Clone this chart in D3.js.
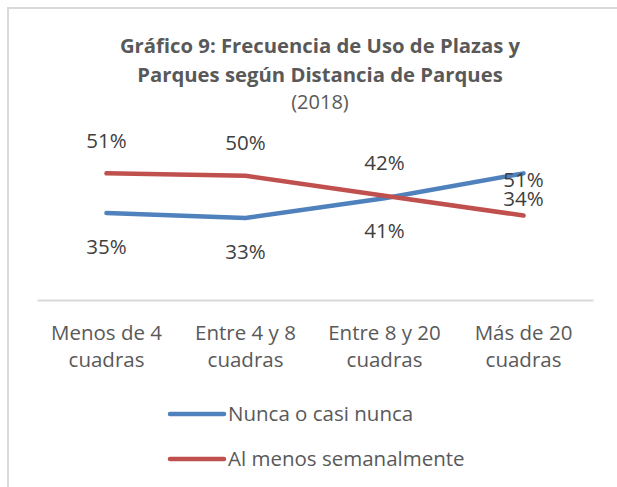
<!DOCTYPE html>
<html>
<head>
<meta charset="utf-8">
<script src="https://cdn.jsdelivr.net/npm/d3@7/dist/d3.min.js"></script>
<style>
  html, body { margin: 0; padding: 0; background: #fff; }
  svg { display: block; }
  text { font-family: "Open Sans", sans-serif; }
</style>
</head>
<body>
<svg id="chart" width="617" height="487"></svg>
<script>
const categories = [["Menos de 4", "cuadras"], ["Entre 4 y 8", "cuadras"], ["Entre 8 y 20", "cuadras"], ["Más de 20", "cuadras"]];
const seriesNames = ["Nunca o casi nunca", "Al menos semanalmente"];
const nuncaValues = [35, 33, 41, 51];
const semanalValues = [51, 50, 42, 34];
const titleLines = ["Gráfico 9: Frecuencia de Uso de Plazas y", "Parques según Distancia de Parques"];
const subtitle = "(2018)";

// layout (not data)
const colors = ["#4F81BD", "#C0504D"];
const labelOffsets = [[34, 34, 33, 6], [-33, -33, -33, -17]];
const FS = 20.5;

const svg = d3.select("#chart");

// border
svg.append("path")
  .attr("d", "M8,487 L8,8 L617,8")
  .attr("fill", "none").attr("stroke", "#d9d9d9").attr("stroke-width", 2);

// title
svg.append("text").attr("x", 320).attr("y", 53)
  .attr("text-anchor", "middle").attr("font-size", 20.3).attr("font-weight", "bold")
  .attr("fill", "#595959").text(titleLines[0]);
svg.append("text").attr("x", 320).attr("y", 82)
  .attr("text-anchor", "middle").attr("font-size", 20.3).attr("font-weight", "bold")
  .attr("fill", "#595959").text(titleLines[1]);
svg.append("text").attr("x", 320).attr("y", 109)
  .attr("text-anchor", "middle").attr("font-size", 20)
  .attr("fill", "#595959").text(subtitle);

const x = d3.scaleBand().domain(d3.range(categories.length)).range([37, 593]);
const y = d3.scaleLinear().domain([0, 60]).range([300, 151]);
const cx = i => x(i) + x.bandwidth() / 2;

// axis
const xAxis = d3.axisBottom(x).tickSize(0).tickFormat("");
const ax = svg.append("g").attr("transform", "translate(0,300)").call(xAxis);
ax.select(".domain").attr("stroke", "#d9d9d9").attr("stroke-width", 2);

categories.forEach((c, i) => {
  const t = svg.append("text").attr("text-anchor", "middle")
    .attr("font-size", FS).attr("fill", "#595959");
  t.append("tspan").attr("x", cx(i)).attr("y", 340).text(c[0]);
  t.append("tspan").attr("x", cx(i)).attr("y", 367).text(c[1]);
});

const allSeries = [nuncaValues, semanalValues];
const line = d3.line().x((d, i) => cx(i)).y(d => y(d));

allSeries.forEach((vals, s) => {
  svg.append("path").datum(vals)
    .attr("d", line)
    .attr("fill", "none").attr("stroke", colors[s])
    .attr("stroke-width", 4.5).attr("stroke-linecap", "round").attr("stroke-linejoin", "round");
});

allSeries.forEach((vals, s) => {
  vals.forEach((v, i) => {
    svg.append("text")
      .attr("x", cx(i)).attr("y", y(v) + labelOffsets[s][i])
      .attr("dy", "0.35em")
      .attr("text-anchor", "middle").attr("font-size", FS).attr("fill", "#404040")
      .text(v + "%");
  });
});

// legend
seriesNames.forEach((n, s) => {
  const ly = 414 + s * 45;
  svg.append("line").attr("x1", 170).attr("x2", 224).attr("y1", ly).attr("y2", ly)
    .attr("stroke", colors[s]).attr("stroke-width", 4.5).attr("stroke-linecap", "round");
  svg.append("text").attr("x", 228).attr("y", ly).attr("dy", "0.35em")
    .attr("font-size", FS).attr("fill", "#595959").text(n);
});
</script>
</body>
</html>
